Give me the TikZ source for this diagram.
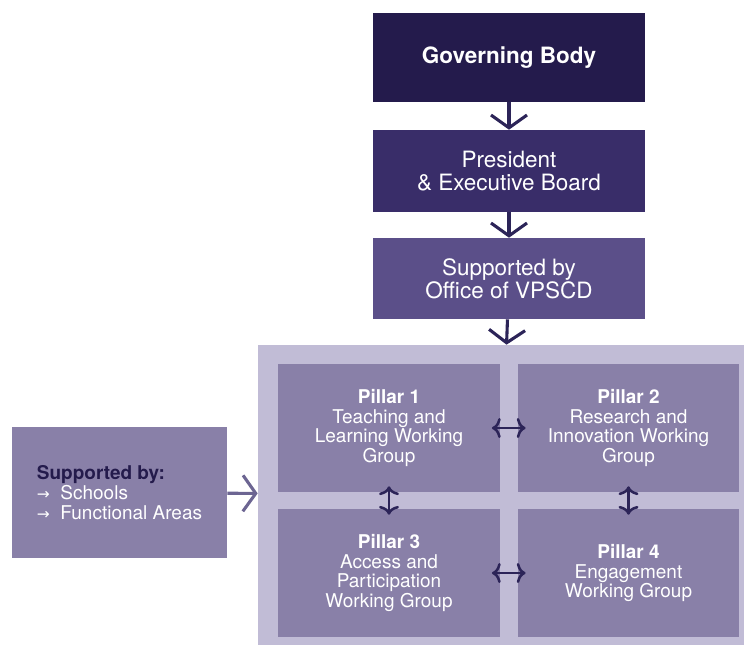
\documentclass[tikz,border=0pt]{standalone}
\usepackage{fontspec}
\setmainfont{TeX Gyre Heros}
\newfontfamily\arrowfont{DejaVu Sans}
\usepackage{tikz}
\usetikzlibrary{arrows.meta}
\definecolor{govcol}{HTML}{241B4C}
\definecolor{prescol}{HTML}{392D69}
\definecolor{officecol}{HTML}{5B4F89}
\definecolor{pillarcol}{HTML}{8980A8}
\definecolor{corecol}{HTML}{C1BCD6}
\definecolor{inkcol}{HTML}{2C2458}
\definecolor{sidecol}{HTML}{6C6592}
\newcommand{\bullarrow}{{\arrowfont\fontsize{11}{11}\selectfont →}\ \ }
\tikzset{
  board node/.style={rectangle,minimum width=6.8cm,inner sep=0pt,text=white,
    align=center,font=\fontsize{16}{16.5}\selectfont},
  pillar node/.style={rectangle,fill=pillarcol,minimum width=5.53cm,
    minimum height=3.2cm,inner sep=0pt,text=white,align=center,
    font=\fontsize{13.5}{13.8}\selectfont},
  down arrow/.style={draw=inkcol,line width=2.2pt,
    -{Straight Barb[length=3.2mm,width=9mm]}},
  link arrow/.style={draw=inkcol,line width=1.8pt,
    {To[length=2.2mm,width=5mm]}-{To[length=2.2mm,width=5mm]}}
}

\begin{document}
\begin{tikzpicture}[x=0.025cm,y=-0.025cm]
  \useasboundingbox (0,0) rectangle (748,647);

  % chain of command
  \node [board node,fill=govcol,minimum height=2.225cm,
    font=\bfseries\fontsize{16}{16.5}\selectfont] (gov) at (509,57.5) {Governing Body};
  \node [board node,fill=prescol,minimum height=2.05cm] (pres) at (509,171)
    {President\\\& Executive Board};
  \node [board node,fill=officecol,minimum height=2.025cm] (office) at (509,278.5)
    {Supported by\\Office of VPSCD};

  % pillars
  \node [rectangle,fill=corecol,minimum width=12.15cm,minimum height=7.5cm,
    inner sep=0pt] (core) at (501,495) {};
  \node [pillar node] (p1) at (389,428)
    {\textbf{Pillar 1}\\Teaching and\\Learning Working\\Group};
  \node [pillar node] (p2) at (628.5,428)
    {\textbf{Pillar 2}\\Research and\\Innovation Working\\Group};
  \node [pillar node] (p3) at (389,573)
    {\textbf{Pillar 3}\\Access and\\Participation\\Working Group};
  \node [pillar node] (p4) at (628.5,573)
    {\textbf{Pillar 4}\\Engagement\\Working Group};

  % support
  \node [rectangle,fill=pillarcol,minimum width=5.375cm,minimum height=3.275cm,
    inner sep=0pt,align=left,text=white,
    font=\fontsize{13.5}{14.2}\selectfont] (support) at (119.5,492.5)
    {\textcolor{govcol}{\textbf{Supported by:}}\\
     \bullarrow Schools\\
     \bullarrow Functional Areas};

  \draw [down arrow] (gov) -- (pres);
  \draw [down arrow] (pres) -- (office);
  \draw [down arrow] (office) -- (core);
  \draw [down arrow,draw=sidecol] (support) -- (core);

  \draw [link arrow,shorten <=-0.2cm,shorten >=-0.2cm] (p1) -- (p2);
  \draw [link arrow,shorten <=-0.2cm,shorten >=-0.2cm] (p3) -- (p4);
  \draw [link arrow,shorten <=-0.15cm,shorten >=-0.15cm] (p1) -- (p3);
  \draw [link arrow,shorten <=-0.15cm,shorten >=-0.15cm] (p2) -- (p4);
\end{tikzpicture}
\end{document}
